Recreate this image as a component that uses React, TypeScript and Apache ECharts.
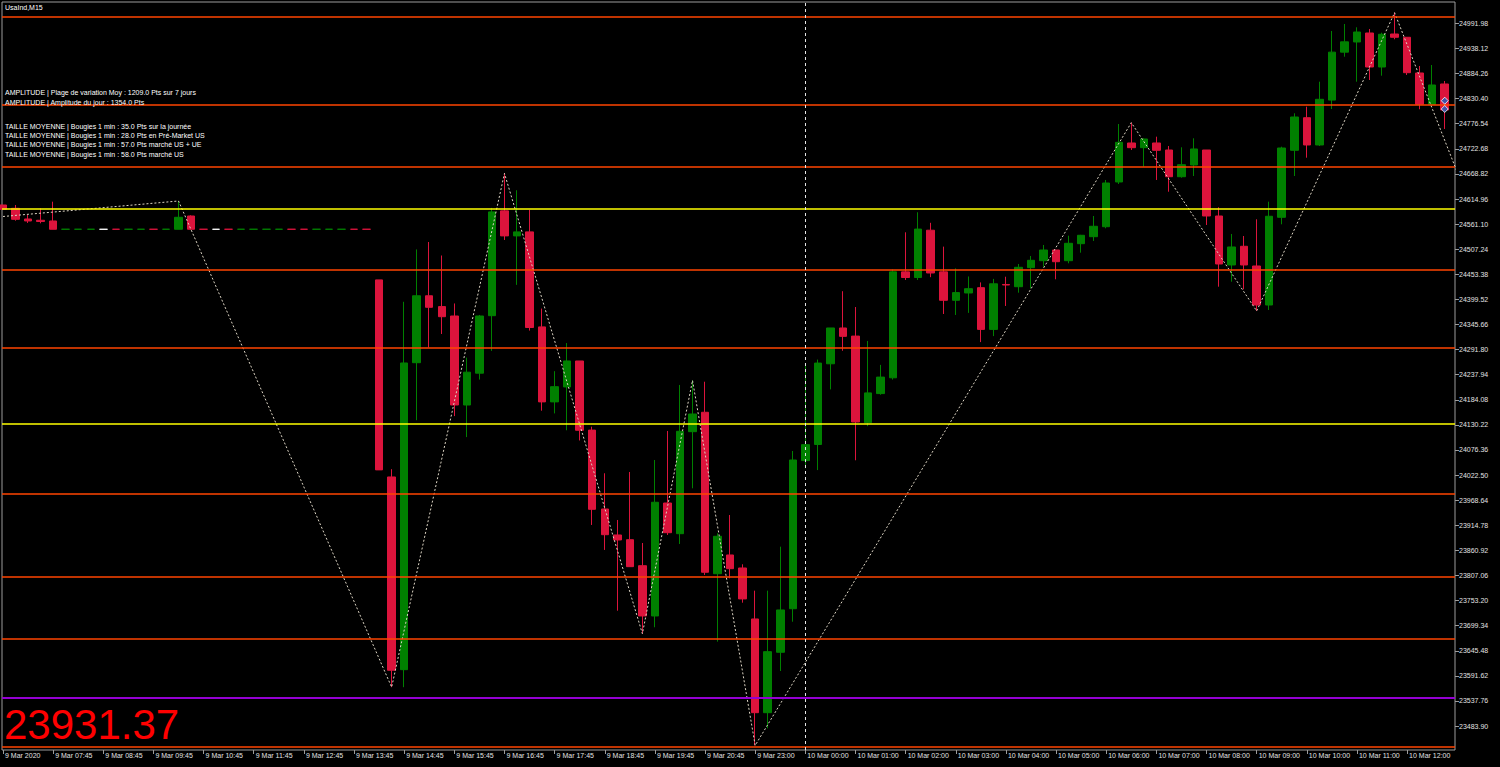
import React, { useEffect, useRef } from "react";
import * as echarts from "echarts";

// ---------- DATA ----------
const opens = [
  24602.1, 24595.0, 24572.1, 24569.3, 24567.8,
  24550.0, 24550.0, 24550.0, 24550.0, 24550.1, 24550.0, 24550.0, 24550.1, 24550.0,
  24550.0, 24578.5,
  24550.1, 24550.0, 24550.1, 24550.0, 24550.0, 24550.0, 24550.0, 24550.1, 24550.1, 24550.0, 24550.0, 24550.0, 24550.1, 24550.1,
  24441.4, 24018.5, 23605.0, 24263.7, 24407.3, 24384.1, 24363.9, 24172.9, 24241.2, 24364.6,
  24589.5, 24535.8, 24544.4, 24340.5, 24179.6, 24211.6, 24267.4, 24119.1, 23949.8, 23894.0,
  23883.9, 23828.1, 23720.2, 23962.6, 23896.8, 24115.7, 24157.3, 23810.9, 23851.1, 23823.2,
  23713.8, 23512.7, 23642.3, 23735.8, 24053.6, 24088.2, 24261.4, 24338.2, 24320.8, 24135.0,
  24197.4, 24231.3, 24458.6, 24446.5, 24548.0, 24458.6, 24397.6, 24413.3, 24424.7, 24335.2,
  24431.5, 24426.8, 24467.6, 24482.6, 24505.5, 24482.6, 24519.1, 24534.1, 24555.5, 24651.5,
  24735.2, 24725.1, 24735.2, 24720.1, 24662.8, 24687.9, 24720.1, 24578.5, 24473.4, 24513.5,
  24471.2, 24387.5, 24575.7, 24719.5, 24789.4, 24730.9, 24827.2, 24930.1, 24951.9, 24971.2,
  24898.2, 24969.0, 24962.0, 24885.4, 24818.2, 24861.8,
];
const closes = [
  24592.9, 24571.4, 24567.8, 24566.7, 24550.0,
  24550.1, 24550.1, 24550.1, 24550.0, 24550.0, 24550.1, 24550.1, 24550.0, 24550.1,
  24575.7, 24550.0,
  24550.0, 24550.0, 24550.0, 24550.1, 24550.1, 24550.1, 24550.1, 24550.0, 24550.0, 24550.1, 24550.1, 24550.1, 24550.0, 24550.0,
  24033.7, 23603.7, 24263.1, 24407.3, 24382.6, 24362.4, 24172.9, 24243.3, 24363.9, 24587.3,
  24535.8, 24544.4, 24339.2, 24179.6, 24212.2, 24267.4, 24118.7, 23949.1, 23894.6, 23883.3,
  23826.0, 23720.2, 23964.2, 23898.9, 24116.5, 24153.6, 23814.0, 23891.2, 23821.7, 23756.8,
  23512.7, 23643.6, 23733.1, 24054.9, 24087.8, 24262.9, 24338.2, 24320.2, 24136.5, 24198.9,
  24232.8, 24458.6, 24446.5, 24550.4, 24456.2, 24397.6, 24414.1, 24422.5, 24335.2, 24433.0,
  24430.4, 24468.4, 24483.4, 24505.5, 24480.4, 24519.9, 24537.1, 24556.4, 24649.3, 24736.6,
  24725.1, 24743.7, 24719.5, 24662.8, 24688.6, 24722.3, 24578.5, 24475.5, 24512.0, 24473.4,
  24387.5, 24577.9, 24724.4, 24790.9, 24730.9, 24828.9, 24930.1, 24952.2, 24973.3, 24898.2,
  24968.4, 24962.0, 24886.0, 24818.2, 24859.6, 24805.9,
];
const lows = [
  24592.9, 24568.4, 24563.5, 24562.8, 24550.0,
  24550.0, 24550.0, 24550.0, 24550.0, 24550.0, 24550.0, 24550.0, 24550.0, 24550.0,
  24550.0, 24548.5,
  24550.0, 24550.0, 24550.0, 24550.0, 24550.0, 24550.0, 24550.0, 24550.0, 24550.0, 24550.0, 24550.0, 24550.0, 24550.0, 24550.0,
  24033.7, 23567.4, 23567.4, 24140.3, 24296.3, 24325.3, 24149.1, 24104.1, 24227.5, 24289.0,
  24527.0, 24430.7, 24332.6, 24160.7, 24154.9, 24118.7, 24096.8, 23915.5, 23861.9, 23731.5,
  23826.0, 23682.2, 23696.0, 23894.0, 23874.7, 23994.2, 23808.2, 23665.1, 23801.1, 23748.7,
  23442.5, 23479.2, 23602.1, 23707.9, 24037.1, 24033.3, 24206.4, 24289.3, 24054.3, 24127.5,
  24195.0, 24227.5, 24441.2, 24441.2, 24447.2, 24368.2, 24366.1, 24370.6, 24307.9, 24320.8,
  24385.4, 24413.9, 24423.4, 24469.7, 24442.7, 24477.0, 24499.8, 24524.9, 24552.1, 24647.2,
  24720.1, 24684.3, 24655.8, 24630.6, 24660.7, 24664.3, 24559.2, 24426.8, 24437.5, 24421.2,
  24374.7, 24376.8, 24560.7, 24664.3, 24703.6, 24728.7, 24808.1, 24920.3, 24866.7, 24870.3,
  24879.6, 24957.7, 24881.1, 24807.5, 24813.0, 24765.2,
];
const highs = [
  24602.1, 24602.1, 24580.6, 24595.0, 24609.2,
  24550.1, 24550.1, 24550.1, 24550.0, 24550.1, 24550.1, 24550.1, 24550.1, 24550.1,
  24610.7, 24580.0,
  24550.1, 24550.0, 24550.1, 24550.1, 24550.1, 24550.1, 24550.1, 24550.1, 24550.1, 24550.1, 24550.1, 24550.1, 24550.1, 24550.1,
  24441.4, 24035.2, 24394.4, 24506.8, 24522.7, 24493.7, 24390.8, 24274.6, 24366.0, 24595.9,
  24669.9, 24633.7, 24591.6, 24379.8, 24245.5, 24305.8, 24267.4, 24126.4, 24026.4, 23926.2,
  24029.2, 23876.8, 24054.9, 24117.2, 24215.9, 24225.7, 24222.9, 23897.6, 23936.9, 23831.1,
  23774.5, 23774.5, 23868.9, 24074.2, 24258.8, 24270.4, 24338.2, 24417.1, 24383.2, 24310.3,
  24259.0, 24463.9, 24543.5, 24586.5, 24563.9, 24512.8, 24466.1, 24448.7, 24436.0, 24443.5,
  24448.2, 24475.5, 24492.7, 24516.3, 24505.5, 24536.2, 24538.0, 24578.5, 24655.8, 24775.9,
  24778.7, 24745.2, 24748.7, 24728.7, 24725.9, 24745.2, 24720.1, 24597.2, 24539.9, 24535.6,
  24571.4, 24609.2, 24727.2, 24798.9, 24813.0, 24866.7, 24975.5, 24990.5, 24983.4, 24979.8,
  24971.8, 25014.7, 24962.0, 24900.4, 24902.5, 24868.2,
];
// bars whose open equals close (drawn in the neutral/white colour)
const neutralBars = [8, 17];

const zigzagBars = [0, 14, 31, 40, 51, 55, 60, 90, 100, 111, 117];
const zigzagValues = [24577.4, 24610.7, 23567.4, 24669.9, 23682.2, 24225.7, 23442.5, 24778.7, 24374.7, 25014.7, 24603.8];

const orangeLevels = [25006.2, 24816.7, 24684.3, 24463.3, 24295.3, 23982.0, 23804.9, 23671.3, 23439.8];
const yellowLevels = [24593.5, 24133.7];
const purpleLevels = [23544.3];
const daySeparatorBar = 64;
const tradeMarks = [
  [115, 24825.9],
  [115, 24808.1],
];

const xTickBars = [0, 4, 8, 12, 16, 20, 24, 28, 32, 36, 40, 44, 48, 52, 56, 60, 64, 68, 72, 76, 80, 84, 88, 92, 96, 100, 104, 108, 112];
const xTickLabels = [
  "9 Mar 2020", "9 Mar 07:45", "9 Mar 08:45", "9 Mar 09:45", "9 Mar 10:45", "9 Mar 11:45",
  "9 Mar 12:45", "9 Mar 13:45", "9 Mar 14:45", "9 Mar 15:45", "9 Mar 16:45", "9 Mar 17:45",
  "9 Mar 18:45", "9 Mar 19:45", "9 Mar 20:45", "9 Mar 23:00", "10 Mar 00:00", "10 Mar 01:00",
  "10 Mar 02:00", "10 Mar 03:00", "10 Mar 04:00", "10 Mar 05:00", "10 Mar 06:00", "10 Mar 07:00",
  "10 Mar 08:00", "10 Mar 09:00", "10 Mar 10:00", "10 Mar 11:00", "10 Mar 12:00",
];
const yTicks = [
  23483.9, 23537.76, 23591.62, 23645.48, 23699.34, 23753.2, 23807.06, 23860.92, 23914.78, 23968.64,
  24022.5, 24076.36, 24130.22, 24184.08, 24237.94, 24291.8, 24345.66, 24399.52, 24453.38, 24507.24,
  24561.1, 24614.96, 24668.82, 24722.68, 24776.54, 24830.4, 24884.26, 24938.12, 24991.98,
];

const symbolTitle = "UsaInd,M15";
const infoLines = [
  "AMPLITUDE | Plage de variation Moy : 1209.0 Pts sur 7 jours",
  "AMPLITUDE | Amplitude du jour : 1354.0 Pts",
  "TAILLE MOYENNE | Bougies 1 min : 35.0 Pts sur la journée",
  "TAILLE MOYENNE | Bougies 1 min : 28.0 Pts en Pré-Market US",
  "TAILLE MOYENNE | Bougies 1 min : 57.0 Pts marché US + UE",
  "TAILLE MOYENNE | Bougies 1 min : 58.0 Pts marché US",
];
const priceTag = "23931.37";

// ---------- STYLE / LAYOUT ----------
const FONT = '"Liberation Sans", Arial, sans-serif';
const BULL = "#008000";
const BEAR = "#dc143c";
const NEUTRAL = "#ffffff";
const FRAME = "#9c9c9c";
const TEXT = "#e2e2e2";
const infoY = [92.7, 102, 126.3, 135.3, 144.7, 154];

export default function App() {
  const ref = useRef<HTMLDivElement>(null);

  useEffect(() => {
    document.body.style.margin = "0";
    document.body.style.background = "#000";
    const chart = echarts.init(ref.current!, null, { renderer: "svg" });

    const candleData = opens.map((o, i) => {
      const item: any = { value: [i, o, closes[i], lows[i], highs[i]] };
      if (neutralBars.includes(i)) {
        item.itemStyle = { color: NEUTRAL, color0: NEUTRAL, borderColor: NEUTRAL, borderColor0: NEUTRAL };
      }
      return item;
    });

    const levelLines: any[] = [
      ...orangeLevels.map((v) => ({ yAxis: v, lineStyle: { color: "#ff4500", width: 1.6, type: "solid" } })),
      ...yellowLevels.map((v) => ({ yAxis: v, lineStyle: { color: "#ffff00", width: 1.6, type: "solid" } })),
      ...purpleLevels.map((v) => ({ yAxis: v, lineStyle: { color: "#9400d3", width: 2, type: "solid" } })),
      { xAxis: daySeparatorBar, lineStyle: { color: "#e6e6e6", width: 1, type: [3, 3] } },
    ];

    const option: any = {
      animation: false,
      backgroundColor: "#000000",
      grid: {
        left: 2,
        right: 45,
        top: 2,
        bottom: 17,
        show: true,
        borderColor: FRAME,
        borderWidth: 1,
        backgroundColor: "transparent",
      },
      xAxis: {
        type: "value",
        min: -0.08,
        max: 115.82,
        splitLine: { show: false },
        axisLine: { show: false, onZero: false },
        axisTick: {
          show: true,
          customValues: xTickBars,
          length: 4,
          lineStyle: { color: FRAME, width: 1 },
        },
        axisLabel: {
          customValues: xTickBars,
          formatter: (v: number) => {
            const k = xTickBars.indexOf(Math.round(v));
            return k >= 0 ? xTickLabels[k] : "";
          },
          align: "left",
          margin: 2,
          padding: [0, 0, 0, 2],
          color: TEXT,
          fontSize: 7,
          fontFamily: FONT,
        },
      },
      yAxis: {
        type: "value",
        position: "right",
        min: 23432.6,
        max: 25037.7,
        scale: true,
        splitLine: { show: false },
        axisLine: { show: false, onZero: false },
        axisTick: {
          show: true,
          customValues: yTicks,
          length: 4,
          lineStyle: { color: FRAME, width: 1 },
        },
        axisLabel: {
          customValues: yTicks,
          formatter: (v: number) => v.toFixed(2),
          margin: 4,
          color: TEXT,
          fontSize: 7,
          fontFamily: FONT,
        },
      },
      series: [
        {
          type: "candlestick",
          name: "UsaInd",
          dimensions: ["bar", "open", "close", "lowest", "highest"],
          encode: { x: 0, y: [1, 2, 3, 4] },
          data: candleData,
          barWidth: 8,
          clip: true,
          itemStyle: {
            color: BULL,
            color0: BEAR,
            borderColor: BULL,
            borderColor0: BEAR,
            borderWidth: 1,
          },
          z: 2,
        },
        {
          type: "line",
          name: "levels",
          data: [],
          z: 3,
          markLine: {
            silent: true,
            symbol: ["none", "none"],
            label: { show: false },
            animation: false,
            data: levelLines,
          },
        },
        {
          type: "line",
          name: "ZigZag",
          data: zigzagBars.map((b, k) => [b, zigzagValues[k]]),
          showSymbol: false,
          clip: true,
          lineStyle: { color: "#ddd5c4", width: 1, type: [2, 2] },
          z: 4,
        },
        {
          type: "scatter",
          name: "trades",
          data: tradeMarks,
          symbol: "diamond",
          symbolSize: 7,
          itemStyle: { color: "#1c62c4", borderColor: "#ffffff", borderWidth: 1 },
          z: 5,
        },
      ],
      graphic: [
        {
          type: "text",
          x: 5,
          y: 7.5,
          z: 100,
          silent: true,
          style: { text: symbolTitle, fill: "#ffffff", fontSize: 7, fontFamily: FONT, verticalAlign: "middle" },
        },
        ...infoLines.map((t, k) => ({
          type: "text",
          x: 5,
          y: infoY[k],
          z: 100,
          silent: true,
          style: { text: t, fill: "#ffffff", fontSize: 7, fontFamily: FONT, verticalAlign: "middle" },
        })),
        {
          type: "text",
          x: 4,
          y: 724,
          z: 100,
          silent: true,
          style: { text: priceTag, fill: "#ff0000", fontSize: 42, fontFamily: FONT, verticalAlign: "middle" },
        },
      ],
    };

    chart.setOption(option);
    return () => chart.dispose();
  }, []);

  return <div ref={ref} style={{ width: 1500, height: 767, background: "#000" }} />;
}
